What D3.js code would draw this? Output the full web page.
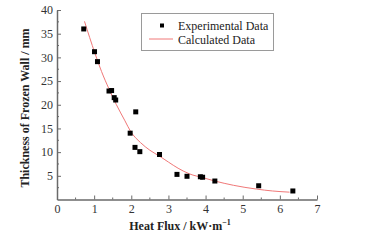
<!DOCTYPE html>
<html>
<head>
<meta charset="utf-8">
<script src="https://cdn.jsdelivr.net/npm/d3@7"></script>
<style>
  html, body { margin: 0; padding: 0; background: #fff; }
  svg { display: block; }
</style>
</head>
<body>
<svg id="chart" width="384" height="240"></svg>
<script>
// Experimental data (heat flux kW/m, thickness mm)
const expX = [0.72, 1.01, 1.09, 1.40, 1.47, 1.54, 1.58, 2.12, 1.97, 2.10, 2.23, 2.76, 3.23, 3.50, 3.86, 3.92, 4.25, 5.43, 6.35];
const expY = [36.0, 31.2, 29.1, 22.9, 23.0, 21.5, 21.0, 18.5, 14.0, 11.0, 10.1, 9.5, 5.3, 4.9, 4.8, 4.7, 3.9, 2.9, 1.8];
// Calculated curve
const calcX = [0.74, 1.02, 1.20, 1.39, 1.60, 1.83, 1.98, 2.25, 2.50, 2.77, 3.00, 3.26, 3.57, 3.93, 4.25, 4.75, 5.37, 5.80, 6.26];
const calcY = [37.6, 30.9, 27.0, 23.5, 20.0, 16.6, 14.4, 12.0, 10.4, 9.1, 7.9, 6.6, 5.4, 4.6, 3.9, 3.0, 2.2, 1.8, 1.55];
const xTicks = [0, 1, 2, 3, 4, 5, 6, 7];
const yTicks = [5, 10, 15, 20, 25, 30, 35, 40];
const seriesNames = ["Experimental Data", "Calculated Data"];

const svg = d3.select("#chart");
const font = "'Liberation Serif', 'Times New Roman', serif";
const axisColor = "#6a6a6a";
const textColor = "#333";

const x = d3.scaleLinear().domain([0, 7]).range([57, 317]);
const y = d3.scaleLinear().domain([0, 40]).range([199.5, 10]);

// Minor ticks
const xMinor = d3.range(0.5, 7, 1);
const yMinor = d3.range(2.5, 40, 5);

const gx = svg.append("g").attr("transform", `translate(0,${y(0)})`)
  .call(d3.axisBottom(x).tickValues(xTicks).tickFormat(d3.format("d")).tickSizeInner(-4).tickSizeOuter(0).tickPadding(5));
gx.append("g").selectAll("line").data(xMinor).join("line")
  .attr("x1", d => x(d)).attr("x2", d => x(d)).attr("y1", 0).attr("y2", -2);

const gy = svg.append("g").attr("transform", `translate(${x(0)},0)`)
  .call(d3.axisLeft(y).tickValues(yTicks).tickFormat(d3.format("d")).tickSizeInner(-4).tickSizeOuter(0).tickPadding(4));
gy.append("g").selectAll("line").data(yMinor).join("line")
  .attr("y1", d => y(d)).attr("y2", d => y(d)).attr("x1", 0).attr("x2", 2);

[gx, gy].forEach(g => {
  g.select(".domain").attr("stroke", axisColor).attr("stroke-width", 1.5);
  g.selectAll("line").attr("stroke", axisColor).attr("stroke-width", 1);
  g.selectAll("text").attr("font-family", font).attr("font-size", 12).attr("fill", textColor);
});

// Calculated curve
const line = d3.line().x(d => x(d[0])).y(d => y(d[1])).curve(d3.curveMonotoneX);
svg.append("path").datum(calcX.map((v, i) => [v, calcY[i]]))
  .attr("d", line).attr("fill", "none").attr("stroke", "#f07878").attr("stroke-width", 1);

// Experimental points
const sz = 5;
svg.append("g").selectAll("rect").data(expX.map((v, i) => [v, expY[i]])).join("rect")
  .attr("x", d => x(d[0]) - sz / 2).attr("y", d => y(d[1]) - sz / 2)
  .attr("width", sz).attr("height", sz).attr("fill", "#000");

// Legend
const lg = svg.append("g");
lg.append("rect").attr("x", 141.5).attr("y", 13.5).attr("width", 132).attr("height", 37)
  .attr("fill", "#fff").attr("stroke", "#9a9a9a").attr("stroke-width", 1);
lg.append("rect").attr("x", 162 - 2).attr("y", 25.5 - 2).attr("width", 4).attr("height", 4).attr("fill", "#000");
lg.append("line").attr("x1", 149).attr("x2", 173).attr("y1", 39).attr("y2", 39)
  .attr("stroke", "#f07878").attr("stroke-width", 1);
lg.selectAll("text").data(seriesNames).join("text")
  .attr("x", 178).attr("y", (d, i) => 30 + i * 14)
  .attr("font-family", font).attr("font-size", 12).attr("fill", "#222").text(d => d);

// Axis titles
const xt = svg.append("text").attr("x", 180).attr("y", 230).attr("text-anchor", "middle")
  .attr("font-family", font).attr("font-size", 12).attr("font-weight", "bold").attr("fill", "#222");
xt.append("tspan").text("Heat Flux / kW·m");
xt.append("tspan").attr("dy", -5).attr("font-size", 8).text("−1");

svg.append("text").attr("transform", "translate(29,108) rotate(-90)").attr("text-anchor", "middle")
  .attr("font-family", font).attr("font-size", 12).attr("font-weight", "bold").attr("fill", "#222")
  .text("Thickness of Frozen Wall / mm");
</script>
</body>
</html>
